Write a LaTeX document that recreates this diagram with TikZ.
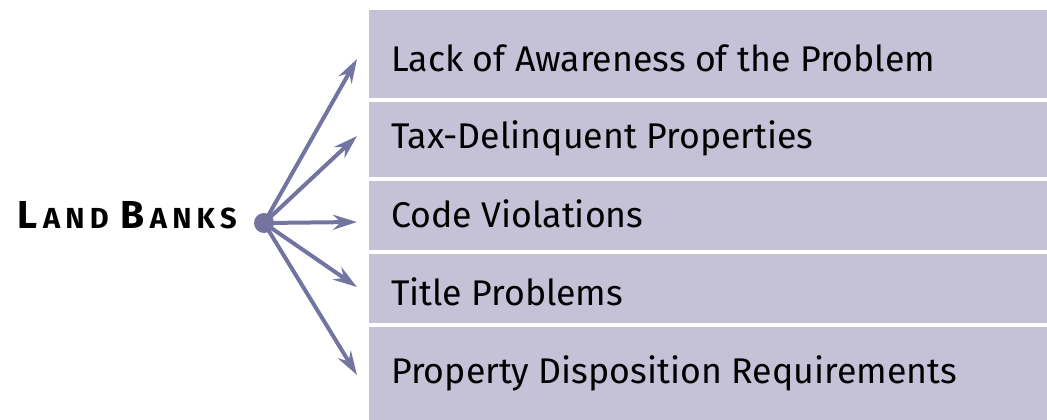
\documentclass[tikz,border=0pt]{standalone}
\usepackage{fontspec}
\setmainfont{Fira Sans}
\newfontfamily\lbfont{Fira Sans Bold}
\usetikzlibrary{arrows.meta,calc}
\definecolor{boxfill}{HTML}{C5C2D8}
\definecolor{arrowc}{HTML}{7474A0}
\newlength\lackw
\newlength\lbw
\newcommand\lbtxt[1]{\lbfont{\fontsize{39}{42}\selectfont L}\kern#1{\fontsize{29}{31}\selectfont A}\kern#1{\fontsize{29}{31}\selectfont N}\kern#1{\fontsize{29}{31}\selectfont D}\kern#1{\fontsize{29}{31}\selectfont\ }{\fontsize{39}{42}\selectfont B}\kern#1{\fontsize{29}{31}\selectfont A}\kern#1{\fontsize{29}{31}\selectfont N}\kern#1{\fontsize{29}{31}\selectfont K}\kern#1{\fontsize{29}{31}\selectfont S}}
\tikzset{
  itembox/.style={fill=boxfill, draw=none, anchor=north west, minimum width=678pt, inner sep=0pt},
  itemtext/.style={anchor=base west, inner sep=0pt, font=\fontsize{\boxfs}{\boxfs}\selectfont},
  link/.style={draw=arrowc, line width=4pt, -{Stealth[length=24pt,width=15pt,inset=8pt]}}
}
\begin{document}
\begin{tikzpicture}[x=1pt,y=-1pt]
\pgfinterruptpicture
\settowidth\lackw{\fontsize{100}{120}\selectfont Lack of Awareness of the Problem}\global\lackw=\lackw
\settowidth\lbw{\lbtxt{0pt}}\global\lbw=\lbw
\endpgfinterruptpicture
\pgfmathsetmacro\boxfs{544/\lackw*100}
\pgfmathsetlengthmacro\lbkern{(224pt-\lbw)/9}
\useasboundingbox (0,0) rectangle (1047,420);
\node[itembox, minimum height=88pt] (b1) at (369,10) {};
\node[itembox, minimum height=75pt] (b2) at (369,102) {};
\node[itembox, minimum height=69pt] (b3) at (369,181) {};
\node[itembox, minimum height=69pt] (b4) at (369,254) {};
\node[itembox, minimum height=93pt] (b5) at (369,327) {};
\node[itemtext] (l1) at (391,72) {Lack of Awareness of the Problem};
\node[itemtext] (l2) at (391,148) {Tax-Delinquent Properties};
\node[itemtext] (l3) at (391,227) {Code Violations};
\node[itemtext] (l4) at (391,305) {Title Problems};
\node[itemtext] (l5) at (391,383) {Property Disposition Requirements};
\node[anchor=base east, inner sep=0pt] (lb) at (237,228) {\lbtxt{\lbkern}};
\node[circle, fill=arrowc, inner sep=0pt, minimum size=20pt] (dot) at (264,223) {};
\coordinate (t1) at (357,59);
\coordinate (t2) at (357,136);
\coordinate (t3) at (357,222);
\coordinate (t4) at (357,287);
\coordinate (t5) at (357,375);
\foreach \t in {t1,t2,t3,t4,t5} \draw[link] (dot.center) -- (\t);
\end{tikzpicture}
\end{document}
